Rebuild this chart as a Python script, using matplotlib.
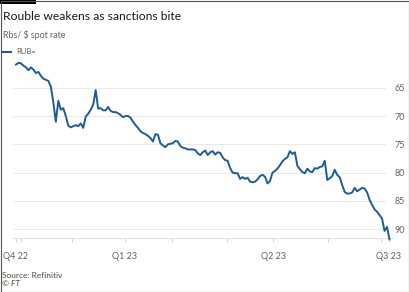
"""
Rouble weakens as sanctions bite - FT style line chart of the RUB= spot rate.
"""

import matplotlib
matplotlib.use('agg')
from matplotlib import pyplot as plt
from matplotlib.patches import Rectangle

# Rbs per dollar, one reading per trading session
rub = [60.9, 60.6, 60.7, 61.1, 61.4, 61.9, 61.4, 61.8, 62.4, 62.2,
       62.9, 63.4, 63.6, 63.8, 64.8, 67.6, 71.0, 67.3, 68.9, 68.6,
       70.0, 71.7, 72.0, 71.8, 71.6, 71.8, 71.3, 72.1, 70.1, 69.6,
       68.9, 68.0, 65.4, 68.7, 68.6, 69.0, 69.0, 68.4, 69.1, 69.3,
       69.3, 69.5, 69.8, 70.2, 70.0, 70.0, 70.3, 71.0, 71.6, 72.1,
       72.7, 73.0, 73.2, 73.5, 73.9, 74.5, 73.2, 73.3, 74.8, 75.2,
       75.5, 75.0, 74.9, 74.8, 74.4, 74.5, 75.3, 75.6, 75.7, 75.9,
       75.9, 75.9, 76.0, 76.6, 76.9, 76.4, 76.1, 76.9, 76.4, 76.2,
       76.8, 76.4, 76.5, 77.3, 77.8, 77.9, 79.2, 80.0, 80.1, 80.1,
       81.1, 80.8, 81.1, 80.9, 81.6, 81.7, 81.6, 81.2, 80.6, 80.4,
       80.7, 81.9, 81.5, 80.0, 79.7, 79.3, 78.7, 78.0, 77.6, 77.3,
       76.2, 76.7, 76.4, 78.8, 79.4, 79.9, 80.1, 79.3, 79.8, 79.9,
       79.2, 79.3, 79.0, 78.9, 77.9, 81.3, 81.0, 80.6, 79.5, 80.4,
       80.8, 82.2, 83.4, 83.7, 83.7, 83.5, 82.7, 83.3, 83.0, 82.7,
       82.8, 83.5, 84.8, 85.7, 86.5, 86.9, 87.5, 88.1, 90.3, 89.6,
       91.8]
sessions = list(range(len(rub)))

y_ticks = [65, 70, 75, 80, 85, 90]
quarter_pos = [0, 43.8, 103.4, 149.8]
quarter_labels = ['Q4 22', 'Q1 23', 'Q2 23', 'Q3 23']
month_pos = [1.9, 22.6, 62.5, 84.6, 125.4, 146.5]

LINE = '#1d5c9b'
GREY = '#66605c'
GRID = '#ebe9e7'
FONT = 'Lato'

W, H = 409, 292
fig = plt.figure(figsize=(W / 100, H / 100), dpi=100)
fig.patch.set_facecolor('white')

ax = fig.add_axes([13 / W, (H - 238) / H, (392 - 13) / W, (238 - 60) / H])
ax.plot(sessions, rub, color=LINE, lw=1.4, clip_on=False, solid_joinstyle='round', zorder=3)
ax.set_xlim(-1.2, 151.0)
ax.set_ylim(91.55, 60.1)

for v in y_ticks:
    ax.axhline(v, xmin=0, xmax=(385 - 13) / (392 - 13), color=GRID, lw=0.8, zorder=1)

for s in ['top', 'left', 'right']:
    ax.spines[s].set_visible(False)
ax.spines['bottom'].set_color('#e4e1de')
ax.spines['bottom'].set_linewidth(0.8)

ax.yaxis.tick_right()
ax.set_yticks(y_ticks)
ax.set_yticklabels([str(v) for v in y_ticks])
ax.tick_params(axis='y', length=0, pad=2, labelsize=6.5, labelcolor=GREY)

ax.set_xticks(quarter_pos)
ax.set_xticklabels(quarter_labels)
ax.set_xticks(month_pos, minor=True)
ax.tick_params(axis='x', which='both', length=3, width=0.7, color='#d9d5d2',
               labelsize=6.5, labelcolor=GREY, pad=7)
for lab in ax.get_xticklabels() + ax.get_yticklabels():
    lab.set_fontfamily(FONT)

# header
fig.text(3 / W, 1 - 16 / H, 'Rouble weakens as sanctions bite', fontsize=8.7,
         color='#1a1a1a', family=FONT, va='center', ha='left')
fig.text(3 / W, 1 - 34.5 / H, 'Rbs/ $ spot rate', fontsize=6.4, color=GREY,
         family=FONT, va='center', ha='left')
fig.add_artist(plt.Line2D([2 / W, 11 / W], [1 - 52 / H, 1 - 52 / H], color=LINE, lw=1.5))
fig.text(16 / W, 1 - 52 / H, 'RUB=', fontsize=5.5, color=GREY, family=FONT,
         va='center', ha='left')

# footer
fig.text(2 / W, 1 - 275 / H, 'Source: Refinitiv', fontsize=6.0, color='#4d4845',
         family=FONT, va='center', ha='left')
fig.text(2 / W, 1 - 284 / H, '\u00a9 FT', fontsize=6.0, color='#4d4845',
         family=FONT, style='italic', va='center', ha='left')

# FT top-left bar and image frame
fig.add_artist(Rectangle((0, 1 - 3.5 / H), 36 / W, 3.5 / H, transform=fig.transFigure,
                         facecolor='black', edgecolor='none'))
fig.add_artist(Rectangle((0.5 / W, 0.5 / H), 1 - 1 / W, 1 - 1 / H, transform=fig.transFigure,
                         facecolor='none', edgecolor='#555555', lw=0.8))

fig.savefig('out.png', dpi=100)
plt.close(fig)
